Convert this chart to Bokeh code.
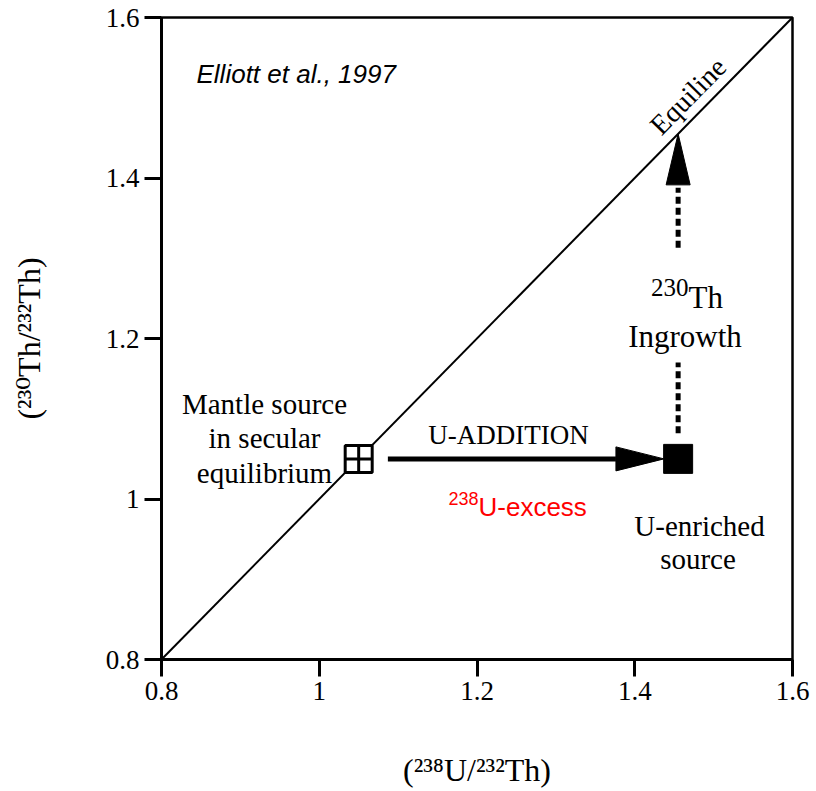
import math
from bokeh.plotting import figure
from bokeh.models import Label, FixedTicker, Range1d
from bokeh.embed import file_html
from bokeh.resources import INLINE

# ---------------- data ----------------
X_TICKS = [0.8, 1.0, 1.2, 1.4, 1.6]
X_TICK_LABELS = ["0.8", "1", "1.2", "1.4", "1.6"]
Y_TICKS = [0.8, 1.0, 1.2, 1.4, 1.6]
Y_TICK_LABELS = ["0.8", "1", "1.2", "1.4", "1.6"]
X_TITLE = "(\u00b2\u00b3\u2078U/\u00b2\u00b3\u00b2Th)"
Y_TITLE = "(\u00b2\u00b3\u2070Th/\u00b2\u00b3\u00b2Th)"

EQUILINE_X = [0.8, 1.6]
EQUILINE_Y = [0.8, 1.6]

MANTLE_X = [1.05]
MANTLE_Y = [1.05]
ENRICHED_X = [1.455]
ENRICHED_Y = [1.05]

U_ADD_X = [1.087, 1.437]      # shaft start, arrow tip
U_ADD_Y = [1.05, 1.05]
INGROWTH_X = [1.455]
INGROWTH_TIP_Y = [1.455]
INGROWTH_DOTS_LOW = [1.082, 1.170]
INGROWTH_DOTS_HIGH = [1.313, 1.388]

# ---------------- geometry (page px) ----------------
W, H = 816, 791
FL, FR, FT, FB = 161, 792, 17, 659
XMIN, XMAX, YMIN, YMAX = 0.8, 1.6, 0.8, 1.6
PX_X = (FR - FL) / (XMAX - XMIN)
PX_Y = (FB - FT) / (YMAX - YMIN)


def dx(px):
    return XMIN + (px - FL) / PX_X


def dy(py):
    return YMIN + (FB - py) / PX_Y


SERIF = "Liberation Serif"
SERIF_SUP = "Liberation Serif, DejaVu Serif"
SANS = "Liberation Sans"

p = figure(width=W, height=H, output_backend="svg", toolbar_location=None,
           x_range=Range1d(XMIN, XMAX), y_range=Range1d(YMIN, YMAX),
           min_border_left=FL, min_border_right=W - FR,
           min_border_top=FT, min_border_bottom=H - FB)
p.grid.visible = False
p.background_fill_color = "white"
p.border_fill_color = "white"
p.outline_line_color = "black"
p.outline_line_width = 2.5
p.outline_line_alpha = 1.0

for ax, ticks, labels, title, standoff in (
        (p.xaxis[0], X_TICKS, X_TICK_LABELS, X_TITLE, 49),
        (p.yaxis[0], Y_TICKS, Y_TICK_LABELS, Y_TITLE, 56)):
    ax.ticker = FixedTicker(ticks=ticks)
    ax.major_label_overrides = dict(zip(ticks, labels))
    ax.minor_tick_line_color = None
    ax.major_tick_in = 0
    ax.major_tick_out = 17
    ax.major_tick_line_width = 3
    ax.major_tick_line_color = "black"
    ax.axis_line_width = 3
    ax.axis_line_color = "black"
    ax.major_label_text_font = SERIF
    ax.major_label_text_font_size = "27px"
    ax.major_label_text_color = "black"
    ax.major_label_standoff = 5
    ax.axis_label = title
    ax.axis_label_text_font = SERIF_SUP
    ax.axis_label_text_font_size = "32px"
    ax.axis_label_text_font_style = "normal"
    ax.axis_label_text_color = "black"
    ax.axis_label_standoff = standoff

# equiline
p.line(EQUILINE_X, EQUILINE_Y, line_color="black", line_width=2)

# U-addition arrow
head_len_h, head_half_h = 48, 12
p.line([U_ADD_X[0], U_ADD_X[1] - head_len_h / PX_X], U_ADD_Y,
       line_color="black", line_width=5)
p.patch([U_ADD_X[1], U_ADD_X[1] - head_len_h / PX_X, U_ADD_X[1] - head_len_h / PX_X],
        [U_ADD_Y[1], U_ADD_Y[1] + head_half_h / PX_Y, U_ADD_Y[1] - head_half_h / PX_Y],
        fill_color="black", line_color="black", line_width=1)

# Th ingrowth arrow (dotted)
head_len_v, head_half_v = 51, 12
tx, ty = INGROWTH_X[0], INGROWTH_TIP_Y[0]
p.patch([tx, tx - head_half_v / PX_X, tx + head_half_v / PX_X],
        [ty, ty - head_len_v / PX_Y, ty - head_len_v / PX_Y],
        fill_color="black", line_color="black", line_width=1)
for seg in (INGROWTH_DOTS_LOW, INGROWTH_DOTS_HIGH):
    p.line([tx, tx], seg, line_color="black", line_width=5, line_dash="7 4")

# markers
p.scatter(MANTLE_X, MANTLE_Y, marker="square_cross", size=27,
          fill_color="white", line_color="black", line_width=3)
p.scatter(ENRICHED_X, ENRICHED_Y, marker="square", size=29,
          fill_color="black", line_color="black", line_width=1)


def lab(px, py, text, size, font=SERIF, align="center", color="black",
        style="normal", angle=0.0):
    p.add_layout(Label(x=dx(px), y=dy(py), text=text, text_font=font,
                       text_font_size=f"{size}px", text_align=align,
                       text_baseline="alphabetic", text_color=color,
                       text_font_style=style, angle=angle))


# in-plot annotations
lab(196, 73, "Elliott et al., 1997", 26, font=SANS, align="left", style="italic")
ang = math.atan2(FB - FT, FR - FL)
lab(687.5, 95.5, "Equiline", 28, angle=ang)
lab(264, 403, "Mantle source", 29)
lab(264, 437, "in secular", 29)
lab(264, 472, "equilibrium", 29)
lab(508, 434, "U-ADDITION", 27)
lab(478, 498, "238", 18, font=SANS, align="right", color="#ff0000")
lab(478, 506, "U-excess", 26, font=SANS, align="left", color="#ff0000")
lab(688, 287, "230", 25, align="right")
lab(688, 297, "Th", 31, align="left")
lab(684.5, 336, "Ingrowth", 31)
lab(699, 525, "U-enriched", 29)
lab(697.5, 558, "source", 29)

open("out.html", "w").write(file_html(p, INLINE))
